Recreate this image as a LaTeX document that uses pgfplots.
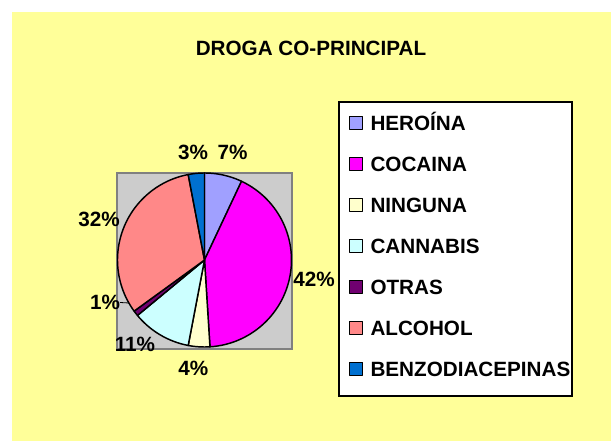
\documentclass[border=0pt]{standalone}
\usepackage{fontspec}
\setmainfont{Liberation Sans}
\usepackage{pgfplots}
\pgfplotsset{compat=1.18}
\definecolor{bgyellow}{HTML}{FFFF99}
\definecolor{plotgray}{HTML}{CCCCCC}
\definecolor{bordergray}{HTML}{808080}
\definecolor{cHer}{HTML}{A0A0FF}
\definecolor{cCoc}{HTML}{FF00FF}
\definecolor{cNin}{HTML}{FFFFCC}
\definecolor{cCan}{HTML}{CCFFFF}
\definecolor{cOtr}{HTML}{700070}
\definecolor{cAlc}{HTML}{FF8888}
\definecolor{cBen}{HTML}{0070D0}
\begin{document}
\begin{tikzpicture}[font=\fontsize{15.5}{18}\selectfont\bfseries]
\useasboundingbox (0,0) rectangle (458.25pt,330.75pt);
\fill[bgyellow] (9pt,0pt) rectangle (458.25pt,321.75pt);
\filldraw[fill=white, draw=black, line width=1.3pt] (254.25pt,33.75pt) rectangle (429pt,254.25pt);
\node[anchor=center, inner sep=0pt, text height=11pt, text depth=0pt] at (233.25pt,294.75pt) {DROGA CO-PRINCIPAL};
\begin{axis}[
  at={(87.75pt,69pt)}, anchor=south west,
  scale only axis, width=131.25pt, height=132pt,
  xmin=-87.5, xmax=87.5, ymin=-89, ymax=87,
  xtick=\empty, ytick=\empty,
  axis background/.style={fill=plotgray},
  axis line style={draw=bordergray, line width=0.9pt},
  clip=false,
  legend cell align=left,
  legend style={draw=none, fill=none, at={(1.3257,1.3258)}, anchor=north west,
    inner sep=0pt, outer sep=0pt, row sep=19.75pt, column sep=5.5pt,
    nodes={inner sep=0pt, text height=11pt, text depth=0pt},
    font=\fontsize{15.5}{18}\selectfont\bfseries},
  legend image code/.code={\draw[#1,draw=black,line width=0.9pt] (0pt,-4.875pt) rectangle (9.75pt,4.875pt);},
]
\def\cum{0}
\foreach \p/\c/\n in {7/cHer/HEROÍNA, 42/cCoc/COCAINA, 4/cNin/NINGUNA, 11/cCan/CANNABIS, 1/cOtr/OTRAS, 32/cAlc/ALCOHOL, 3/cBen/BENZODIACEPINAS}{
  \pgfmathsetmacro\a{90-3.6*\cum}
  \pgfmathsetmacro\b{90-3.6*(\cum+\p)}
  \edef\temp{\noexpand\addplot[fill=\c, draw=black, line width=1.1pt, line join=round, domain=\b:\a, samples=60] ({87*cos(x)},{87*sin(x)}) -- (0,0) -- cycle;
    \noexpand\addlegendentry{\n}}
  \temp
  \pgfmathsetmacro\newcum{\cum+\p}
  \xdef\cum{\newcum}
}
\tikzset{lbl/.style={inner sep=0pt, text height=11pt, text depth=0pt, anchor=center}}
\node[lbl] at (axis cs:-11.5,108) {3\%};
\node[lbl] at (axis cs:28,108) {7\%};
\node[lbl] at (axis cs:109.5,-19) {42\%};
\node[lbl] at (axis cs:-11.2,-108) {4\%};
\node[lbl] at (axis cs:-69.5,-84) {11\%};
\node[lbl] at (axis cs:-99.5,-42.5) {1\%};
\node[lbl] at (axis cs:-105.5,41) {32\%};
\draw[black, line width=0.6pt] (axis cs:-84.5,-42.5) -- (axis cs:-75.5,-43);
\end{axis}
\end{tikzpicture}
\end{document}
